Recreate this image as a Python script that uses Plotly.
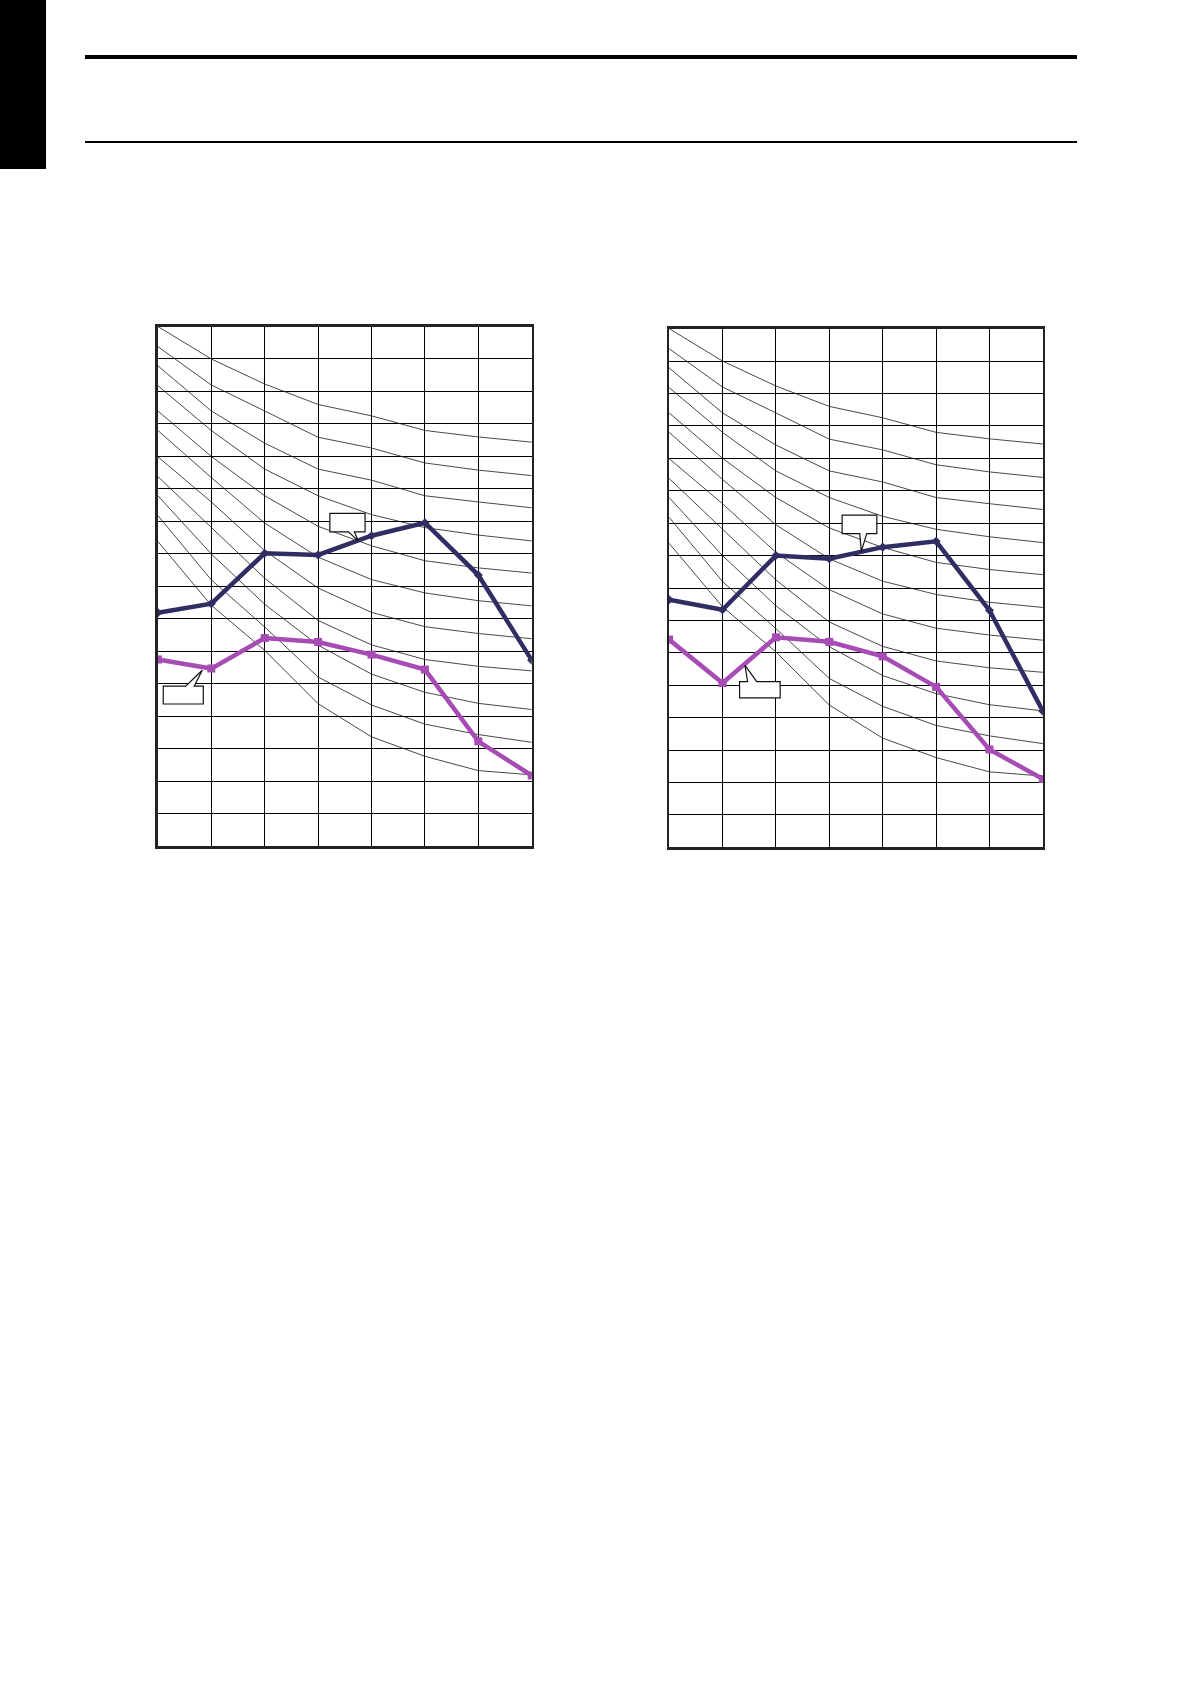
import plotly.graph_objects as go

# ---------------- data ----------------
columns = [0, 1, 2, 3, 4, 5, 6, 7]

left_blue = [7.19, 7.47, 9.02, 8.97, 9.56, 9.96, 8.35, 5.73]
left_magenta = [5.75, 5.47, 6.41, 6.29, 5.90, 5.44, 3.23, 2.18]

right_blue = [7.64, 7.33, 9.00, 8.90, 9.26, 9.44, 7.31, 4.20]
right_magenta = [6.41, 5.07, 6.48, 6.34, 5.89, 4.95, 3.02, 2.11]

# background family of thin curves (same on both charts)
curve_01 = [16.00, 15.00, 14.23, 13.60, 13.25, 12.80, 12.60, 12.44]
curve_02 = [15.38, 14.20, 13.40, 12.59, 12.26, 11.80, 11.58, 11.41]
curve_03 = [14.79, 13.40, 12.41, 11.61, 11.27, 10.79, 10.60, 10.42]
curve_04 = [14.18, 12.80, 11.61, 10.79, 10.21, 9.81, 9.58, 9.40]
curve_05 = [13.40, 12.00, 10.79, 9.85, 9.25, 8.79, 8.57, 8.41]
curve_06 = [12.80, 11.35, 9.95, 8.90, 8.21, 7.80, 7.56, 7.40]
curve_07 = [11.99, 10.60, 9.10, 7.95, 7.20, 6.76, 6.55, 6.39]
curve_08 = [11.38, 9.80, 8.25, 6.95, 6.20, 5.75, 5.54, 5.40]
curve_09 = [10.79, 9.00, 7.45, 6.19, 5.30, 4.74, 4.40, 4.21]
curve_10 = [10.18, 8.20, 6.75, 5.21, 4.35, 3.76, 3.44, 3.20]
curve_11 = [9.38, 7.42, 6.03, 4.39, 3.37, 2.77, 2.33, 2.20]
curves = [curve_01, curve_02, curve_03, curve_04, curve_05, curve_06,
          curve_07, curve_08, curve_09, curve_10, curve_11]

# ---------------- style ----------------
W, H = 1190, 1684
BLUE = "#302D62"
MAGENTA = "#A64CB4"
GRID = "#000000"

fig = go.Figure()

panels = [
    ("x", "y", left_blue, left_magenta),
    ("x2", "y2", right_blue, right_magenta),
]

for xa, ya, blue, mag in panels:
    for c in curves:
        fig.add_trace(go.Scatter(x=columns, y=c, xaxis=xa, yaxis=ya, mode="lines",
                                 line=dict(color="#1a1a1a", width=0.8),
                                 hoverinfo="skip", showlegend=False))
    fig.add_trace(go.Scatter(x=columns, y=blue, xaxis=xa, yaxis=ya, mode="lines+markers",
                             line=dict(color=BLUE, width=4.5),
                             marker=dict(symbol="diamond", size=7, color=BLUE),
                             showlegend=False))
    fig.add_trace(go.Scatter(x=columns, y=mag, xaxis=xa, yaxis=ya, mode="lines+markers",
                             line=dict(color=MAGENTA, width=4.5),
                             marker=dict(symbol="square", size=8, color=MAGENTA),
                             showlegend=False))


def px_x(v):
    return v / W


def px_y(v):
    return 1 - v / H


axis_common = dict(range=[0, 7], dtick=1, tick0=0, showticklabels=False, ticks="",
                   showgrid=True, gridcolor=GRID, gridwidth=1, zeroline=False,
                   showline=True, mirror=True, linecolor="#222222", linewidth=2.5,
                   fixedrange=True)
yaxis_common = dict(axis_common, range=[0, 16])

fig.update_layout(
    width=W, height=H,
    margin=dict(l=0, r=0, t=0, b=0),
    paper_bgcolor="white", plot_bgcolor="white",
    xaxis=dict(axis_common, domain=[px_x(157.9), px_x(531.7)], anchor="y"),
    yaxis=dict(yaxis_common, domain=[px_y(846.3), px_y(326.5)], anchor="x"),
    xaxis2=dict(axis_common, domain=[px_x(669.1), px_x(1042.9)], anchor="y2"),
    yaxis2=dict(yaxis_common, domain=[px_y(847.4), px_y(328.6)], anchor="x2"),
)

shapes = []
# page header decorations
shapes.append(dict(type="rect", xref="paper", yref="paper", x0=0, x1=px_x(46),
                   y0=px_y(169), y1=1, fillcolor="black", line=dict(width=0)))
shapes.append(dict(type="line", xref="paper", yref="paper", x0=px_x(85), x1=px_x(1077),
                   y0=px_y(57), y1=px_y(57), line=dict(color="black", width=4)))
shapes.append(dict(type="line", xref="paper", yref="paper", x0=px_x(85), x1=px_x(1077),
                   y0=px_y(142), y1=px_y(142), line=dict(color="black", width=2)))


def callout(xr, yr, box, base, tip, below):
    bx0, bx1, by0, by1 = box
    ba, bb = base
    tx, ty = tip
    if below:  # pointer leaves from the top edge of the box (tip above)
        path = (f"M {bx0} {by1} L {ba} {by1} L {tx} {ty} L {bb} {by1} L {bx1} {by1} "
                f"L {bx1} {by0} L {bx0} {by0} Z")
    else:  # pointer leaves from the bottom edge (tip below)
        path = (f"M {bx0} {by1} L {bx1} {by1} L {bx1} {by0} L {bb} {by0} L {tx} {ty} "
                f"L {ba} {by0} L {bx0} {by0} Z")
    return dict(type="path", xref=xr, yref=yr, path=path, fillcolor="white",
                line=dict(color="#111111", width=1.2), layer="above")


# left chart callouts
shapes.append(callout("x", "y", (3.22, 3.88, 9.68, 10.25), (3.57, 3.68), (3.75, 9.40), False))
shapes.append(callout("x", "y", (0.10, 0.85, 4.38, 4.93), (0.52, 0.68), (0.83, 5.42), True))
# right chart callouts
shapes.append(callout("x2", "y2", (3.24, 3.89, 9.68, 10.25), (3.57, 3.70), (3.60, 9.13), False))
shapes.append(callout("x2", "y2", (1.32, 2.08, 4.61, 5.11), (1.47, 1.64), (1.42, 5.62), True))

fig.update_layout(shapes=shapes)

fig.write_html("out.html", config={"displayModeBar": False, "staticPlot": True},
               post_script="document.body.style.margin='0';document.body.style.overflow='hidden';")
